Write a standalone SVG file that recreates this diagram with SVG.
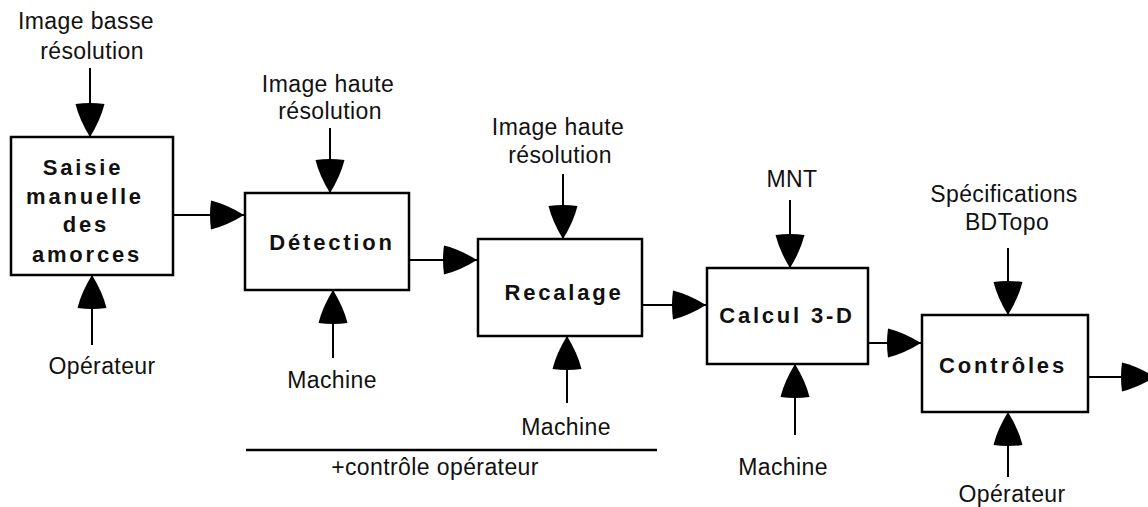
<svg xmlns="http://www.w3.org/2000/svg" width="1148" height="507" viewBox="0 0 1148 507">
<style>
.box{fill:#fff;stroke:#000;stroke-width:2.5}
.lbl{font-family:"Liberation Sans",Arial,sans-serif;font-size:23px;fill:#111;text-anchor:middle;letter-spacing:0.4px}
.ttl{font-family:"Liberation Sans",Arial,sans-serif;font-size:22px;font-weight:bold;fill:#111;text-anchor:middle;letter-spacing:2.8px}
.ln{stroke:#000;stroke-width:2;fill:none;marker-end:url(#ah)}
</style>
<defs>
<marker id="ah" markerUnits="userSpaceOnUse" markerWidth="40" markerHeight="32" viewBox="-37 -16 40 32" refX="0" refY="0" orient="auto">
<path d="M0,0 Q-17,-10.5 -33,-14.5 Q-35,0 -33,14.5 Q-17,10.5 0,0 Z" fill="#000"/>
</marker>
</defs>
<g id="connectors">
<line class="ln" x1="90" y1="68" x2="90" y2="137"/>
<line class="ln" x1="92" y1="345" x2="92" y2="275"/>
<line class="ln" x1="173" y1="215" x2="244" y2="215"/>
<line class="ln" x1="330" y1="128" x2="330" y2="193"/>
<line class="ln" x1="333" y1="358" x2="333" y2="290"/>
<line class="ln" x1="409" y1="260" x2="477" y2="260"/>
<line class="ln" x1="563" y1="174" x2="563" y2="239"/>
<line class="ln" x1="567" y1="403" x2="567" y2="336"/>
<line class="ln" x1="642" y1="305" x2="706" y2="305"/>
<line class="ln" x1="790" y1="200" x2="790" y2="268"/>
<line class="ln" x1="795" y1="435" x2="795" y2="364"/>
<line class="ln" x1="868" y1="343" x2="921" y2="343"/>
<line class="ln" x1="1008" y1="248" x2="1008" y2="315"/>
<line class="ln" x1="1008" y1="477" x2="1008" y2="412"/>
<line class="ln" x1="1088" y1="377" x2="1155" y2="377"/>
</g>
<g id="n1">
<rect class="box" x="11" y="137" width="162" height="138"/>
<text class="ttl" x="83" y="175">Saisie</text>
<text class="ttl" x="85" y="204">manuelle</text>
<text class="ttl" x="86" y="232">des</text>
<text class="ttl" x="87" y="262">amorces</text>
</g>
<g id="n2">
<rect class="box" x="245" y="193" width="164" height="97"/>
<text class="ttl" x="332" y="250">Détection</text>
</g>
<g id="n3">
<rect class="box" x="478" y="239" width="164" height="97"/>
<text class="ttl" x="564" y="300">Recalage</text>
</g>
<g id="n4">
<rect class="box" x="707" y="268" width="161" height="96"/>
<text class="ttl" x="787" y="323">Calcul 3-D</text>
</g>
<g id="n5">
<rect class="box" x="922" y="315" width="166" height="97"/>
<text class="ttl" x="1003" y="373">Contrôles</text>
</g>
<g id="labels">
<text class="lbl" x="86" y="29">Image basse</text>
<text class="lbl" x="92" y="59">résolution</text>
<text class="lbl" x="102" y="374">Opérateur</text>
<text class="lbl" x="328" y="92">Image haute</text>
<text class="lbl" x="330" y="119">résolution</text>
<text class="lbl" x="332" y="388">Machine</text>
<text class="lbl" x="558" y="135">Image haute</text>
<text class="lbl" x="560" y="163">résolution</text>
<text class="lbl" x="566" y="435">Machine</text>
<text class="lbl" x="792" y="187">MNT</text>
<text class="lbl" x="783" y="475">Machine</text>
<text class="lbl" x="1004" y="202">Spécifications</text>
<text class="lbl" x="1007" y="230">BDTopo</text>
<text class="lbl" x="1012" y="502">Opérateur</text>
<text class="lbl" x="435" y="475">+contrôle opérateur</text>
</g>
<line x1="246" y1="450" x2="657" y2="450" stroke="#000" stroke-width="2.5"/>
</svg>
